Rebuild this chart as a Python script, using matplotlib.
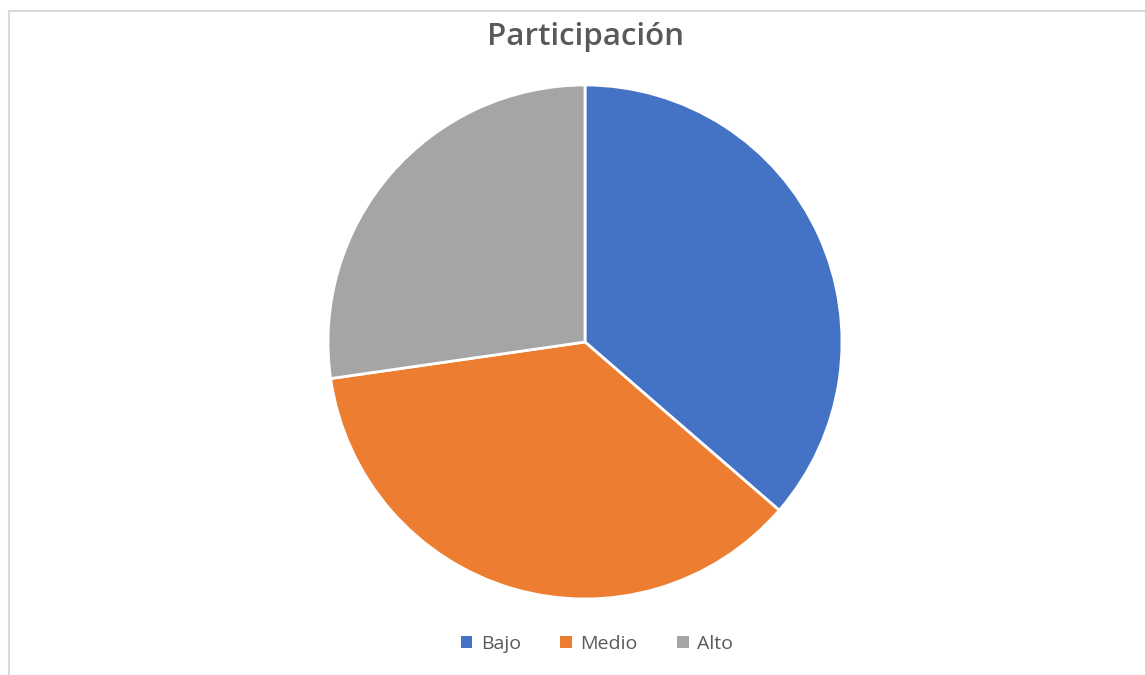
import matplotlib.pyplot as plt
from matplotlib.patches import Rectangle, Patch

plt.rcParams["font.family"] = ["Open Sans", "DejaVu Sans"]

# Data
categories = ["Bajo", "Medio", "Alto"]
values = [4, 4, 3]
colors = ["#4472C4", "#ED7D31", "#A5A5A5"]
title = "Participación"

W, H = 1145, 675
fig = plt.figure(figsize=(W / 100, H / 100), dpi=100)

# light chart-area frame (only top/left edges visible in crop)
fig.patches.append(Rectangle((9 / W, -0.1), 1.2, 1 - 11 / H + 0.1,
                             transform=fig.transFigure, fill=False,
                             edgecolor="#D9D9D9", lw=1.5))

cx, cy, r = 585, 342, 257
ax = fig.add_axes([(cx - r) / W, (H - cy - r) / H, 2 * r / W, 2 * r / H])
ax.pie(values, colors=colors, startangle=90, counterclock=False,
       radius=1, wedgeprops=dict(edgecolor="white", linewidth=2))
ax.set_xlim(-1, 1)
ax.set_ylim(-1, 1)
ax.set_aspect("equal")
ax.axis("off")

fig.text(cx / W, 1 - 37 / H, title, ha="center", va="center",
         fontsize=22.5, fontweight="semibold", color="#595959")

handles = [Patch(facecolor=c, edgecolor="none") for c in colors]
fig.legend(handles, categories, loc="center", bbox_to_anchor=(597 / W, 1 - 644 / H),
           ncol=3, frameon=False, fontsize=14, labelcolor="#595959",
           handlelength=0.6, handleheight=0.6, handletextpad=0.45,
           columnspacing=2.0)

fig.savefig("out.png", dpi=100)
